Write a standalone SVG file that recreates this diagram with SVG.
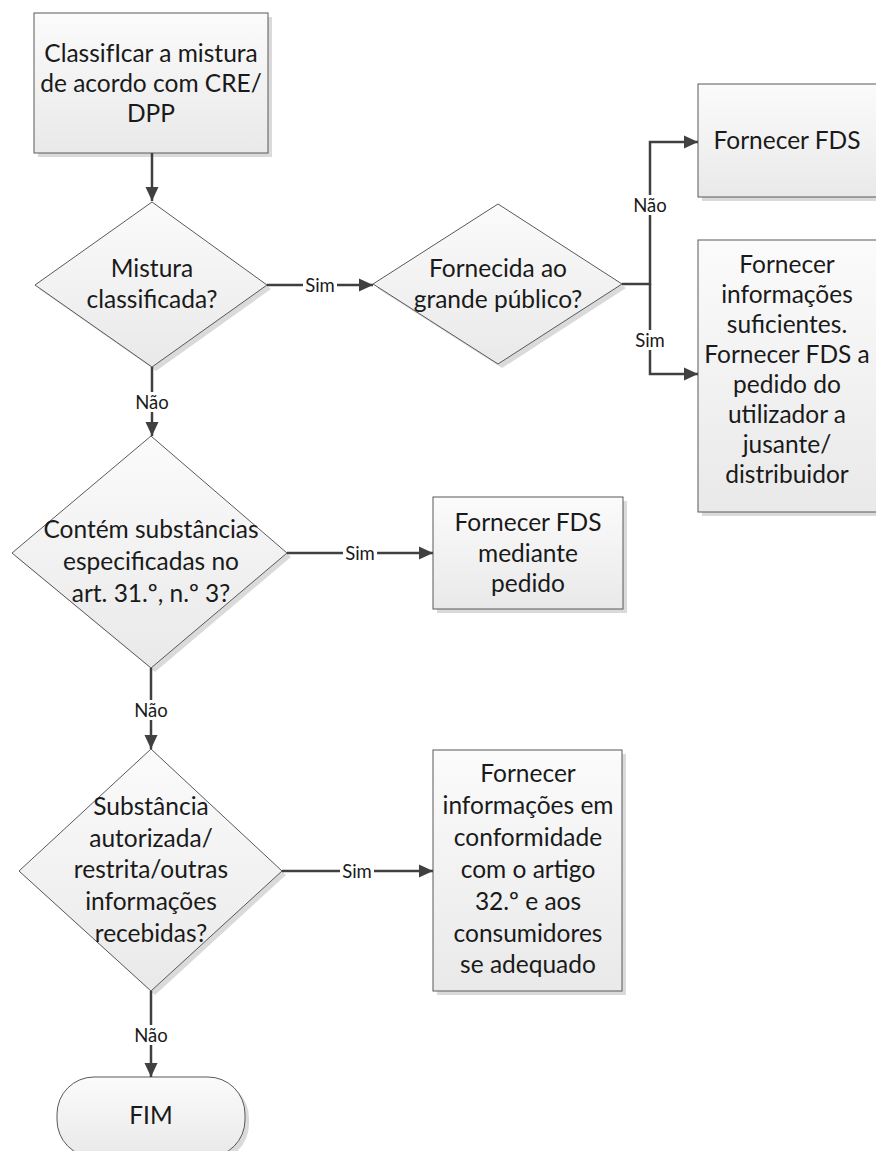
<svg xmlns="http://www.w3.org/2000/svg" width="876" height="1151" viewBox="0 0 876 1151">
  <defs>
    <linearGradient id="fillGrad" x1="0" y1="0" x2="0" y2="1">
      <stop offset="0" stop-color="#fbfbfb"/>
      <stop offset="1" stop-color="#e9e9e9"/>
    </linearGradient>
    <marker id="arrow" markerWidth="14" markerHeight="14" refX="14" refY="7" orient="auto" markerUnits="userSpaceOnUse">
      <path d="M0,0.5 L14,7 L0,13.5 z" fill="#404040"/>
    </marker>
    <style>
      .shape { fill: url(#fillGrad); stroke: #595959; stroke-width: 1; }
      .shadow { fill: #dadada; stroke: none; }
      .label { font-family: Lato, "Liberation Sans", sans-serif; font-size: 24.5px; fill: #1a1a1a; text-anchor: middle; }
      .edge { fill: none; stroke: #404040; stroke-width: 2.5; }
      .elabel { font-family: Lato, "Liberation Sans", sans-serif; font-size: 18.5px; fill: #1a1a1a; text-anchor: middle; dominant-baseline: central; }
      .lbg { fill: #ffffff; }
    </style>
  </defs>
  <rect width="876" height="1151" fill="#ffffff"/>

  <!-- Start: classify the mixture -->
  <g id="classify">
    <rect class="shadow" x="38" y="17" width="234" height="140"/>
    <rect class="shape" x="34" y="13" width="234" height="140"/>
    <text class="label" x="151" y="62">ClassifIcar a mistura</text>
    <text class="label" x="151" y="92">de acordo com CRE/</text>
    <text class="label" x="151" y="122">DPP</text>
  </g>

  <!-- Decision: classified mixture? -->
  <g id="classified">
    <polygon class="shadow" points="156,206 271,289 156,371 39,289"/>
    <polygon class="shape" points="152,202 267,285 152,367 35,285"/>
    <text class="label" x="152" y="277">Mistura</text>
    <text class="label" x="152" y="308">classificada?</text>
  </g>

  <!-- Decision: supplied to the general public? -->
  <g id="public">
    <polygon class="shadow" points="502,208 626,288 502,368 377,288"/>
    <polygon class="shape" points="498,204 622,284 498,364 373,284"/>
    <text class="label" x="498" y="277">Fornecida ao</text>
    <text class="label" x="498" y="308">grande público?</text>
  </g>

  <!-- Action: provide SDS -->
  <g id="sds">
    <rect class="shadow" x="702" y="88" width="190" height="113"/>
    <rect class="shape" x="698" y="84" width="190" height="113"/>
    <text class="label" x="787" y="149">Fornecer FDS</text>
  </g>

  <!-- Action: provide sufficient information -->
  <g id="sufficient">
    <rect class="shadow" x="702" y="244" width="190" height="272"/>
    <rect class="shape" x="698" y="240" width="190" height="272"/>
    <text class="label" x="787" y="273">Fornecer</text>
    <text class="label" x="787" y="303">informações</text>
    <text class="label" x="787" y="333">suficientes.</text>
    <text class="label" x="787" y="363">Fornecer FDS a</text>
    <text class="label" x="787" y="393">pedido do</text>
    <text class="label" x="787" y="423">utilizador a</text>
    <text class="label" x="787" y="453">jusante/</text>
    <text class="label" x="787" y="483">distribuidor</text>
  </g>

  <!-- Decision: contains substances of art. 31(3)? -->
  <g id="art31">
    <polygon class="shadow" points="155,440 291,557 155,672 16,557"/>
    <polygon class="shape" points="151,436 287,553 151,668 12,553"/>
    <text class="label" x="151" y="538">Contém substâncias</text>
    <text class="label" x="151" y="570">especificadas no</text>
    <text class="label" x="151" y="602">art. 31.º, n.º 3?</text>
  </g>

  <!-- Action: provide SDS on request -->
  <g id="onrequest">
    <rect class="shadow" x="437" y="501" width="190" height="112"/>
    <rect class="shape" x="433" y="497" width="190" height="112"/>
    <text class="label" x="528" y="531">Fornecer FDS</text>
    <text class="label" x="528" y="562">mediante</text>
    <text class="label" x="528" y="592">pedido</text>
  </g>

  <!-- Decision: authorised / restricted substance -->
  <g id="authorised">
    <polygon class="shadow" points="155,753 286,875 155,995 23,875"/>
    <polygon class="shape" points="151,749 282,871 151,991 19,871"/>
    <text class="label" x="151" y="815">Substância</text>
    <text class="label" x="151" y="847">autorizada/</text>
    <text class="label" x="151" y="878">restrita/outras</text>
    <text class="label" x="151" y="910">informações</text>
    <text class="label" x="151" y="942">recebidas?</text>
  </g>

  <!-- Action: information under article 32 -->
  <g id="art32">
    <rect class="shadow" x="437" y="754" width="189" height="241"/>
    <rect class="shape" x="433" y="750" width="189" height="241"/>
    <text class="label" x="528" y="782">Fornecer</text>
    <text class="label" x="528" y="814">informações em</text>
    <text class="label" x="528" y="846">conformidade</text>
    <text class="label" x="528" y="878">com o artigo</text>
    <text class="label" x="528" y="910">32.º e aos</text>
    <text class="label" x="528" y="942">consumidores</text>
    <text class="label" x="528" y="973">se adequado</text>
  </g>

  <!-- Terminator -->
  <g id="end">
    <rect class="shadow" x="61" y="1081" width="188" height="80" rx="37" ry="37"/>
    <rect class="shape" x="57" y="1077" width="188" height="80" rx="37" ry="37"/>
    <text class="label" x="151" y="1124">FIM</text>
  </g>

  <!-- Connectors -->
  <g id="connectors">
    <path class="edge" d="M152,153 V201" marker-end="url(#arrow)"/>

    <path class="edge" d="M267,285 H373" marker-end="url(#arrow)"/>
    <rect class="lbg" x="303" y="275" width="34" height="20"/>
    <text class="elabel" x="320" y="285">Sim</text>

    <path class="edge" d="M622,284 H650 V142 H698" marker-end="url(#arrow)"/>
    <rect class="lbg" x="632" y="195" width="36" height="20"/>
    <text class="elabel" x="650" y="205">Não</text>

    <path class="edge" d="M650,284 V374 H698" marker-end="url(#arrow)"/>
    <rect class="lbg" x="633" y="330" width="34" height="20"/>
    <text class="elabel" x="650" y="340">Sim</text>

    <path class="edge" d="M152,367 V436" marker-end="url(#arrow)"/>
    <rect class="lbg" x="134" y="392" width="36" height="20"/>
    <text class="elabel" x="152" y="402">Não</text>

    <path class="edge" d="M287,553 H433" marker-end="url(#arrow)"/>
    <rect class="lbg" x="343" y="543" width="34" height="20"/>
    <text class="elabel" x="360" y="553">Sim</text>

    <path class="edge" d="M151,668 V749" marker-end="url(#arrow)"/>
    <rect class="lbg" x="133" y="700" width="36" height="20"/>
    <text class="elabel" x="151" y="710">Não</text>

    <path class="edge" d="M282,871 H433" marker-end="url(#arrow)"/>
    <rect class="lbg" x="340" y="861" width="34" height="20"/>
    <text class="elabel" x="357" y="871">Sim</text>

    <path class="edge" d="M151,991 V1077" marker-end="url(#arrow)"/>
    <rect class="lbg" x="133" y="1025" width="36" height="20"/>
    <text class="elabel" x="151" y="1035">Não</text>
  </g>
</svg>
